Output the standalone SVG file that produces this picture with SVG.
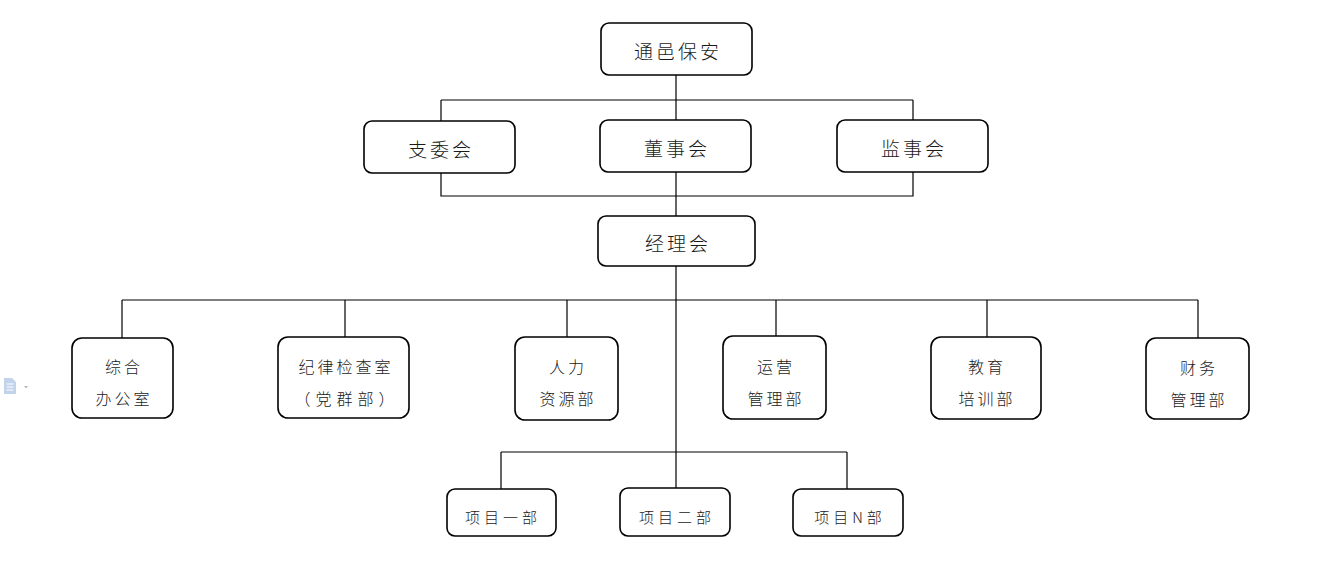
<svg xmlns="http://www.w3.org/2000/svg" width="1342" height="572" viewBox="0 0 1342 572">
<style>
.box{fill:#fff;stroke:#000;stroke-width:1.6}
.ln{stroke:#000;stroke-width:1.2;fill:none}
text{font-family:"Noto Sans CJK SC","Noto Sans",sans-serif;font-weight:300;fill:#1a1a1a;text-anchor:middle;dominant-baseline:central}
.t1{font-size:19px;letter-spacing:3px}
.t2{font-size:16px;letter-spacing:3px}
.t3{font-size:15px;letter-spacing:4px}
.wide{letter-spacing:5px}
</style>
<rect width="1342" height="572" fill="#fff"/>
<g id="doc-icon">
<path d="M4 378 h8 l4 4 v12 h-12 z" fill="#c3d3ea"/>
<path d="M6.5 384 h7 M6.5 387 h7 M6.5 390 h7" stroke="#fff" stroke-width="1"/>
<path d="M24 386 h4 l-2 2.5 z" fill="#b8b8b8"/>
</g>
<g id="connectors">
<path class="ln" d="M676 75 V120 M441 100 H913 M441 100 V121 M913 100 V120"/>
<path class="ln" d="M441 173 V196 H913 V172 M676 172 V216"/>
<path class="ln" d="M676 266 V488 M122 300 H1198 M122 300 V338 M345 300 V337 M567 300 V337 M776 300 V336 M987 300 V337 M1198 300 V338"/>
<path class="ln" d="M501 452 H847 M501 452 V489 M847 452 V489"/>
</g>
<g id="n-top"><rect class="box" x="601" y="23" width="151" height="52" rx="8"/><text class="t1" x="678" y="50">通邑保安</text></g>
<g id="n-zwh"><rect class="box" x="364" y="121" width="151" height="52" rx="8"/><text class="t1" x="441" y="148">支委会</text></g>
<g id="n-dsh"><rect class="box" x="600" y="120" width="151" height="52" rx="8"/><text class="t1" x="677" y="147">董事会</text></g>
<g id="n-jsh"><rect class="box" x="837" y="120" width="151" height="52" rx="8"/><text class="t1" x="914" y="147">监事会</text></g>
<g id="n-jlh"><rect class="box" x="598" y="216" width="157" height="50" rx="8"/><text class="t1" x="678" y="242">经理会</text></g>
<g id="n-zh"><rect class="box" x="72" y="338" width="101" height="80" rx="10"/><text class="t2" x="124" y="366">综合</text><text class="t2" x="124" y="398">办公室</text></g>
<g id="n-jl"><rect class="box" x="278" y="337" width="131" height="81" rx="10"/><text class="t2" x="346" y="366">纪律检查室</text><text class="t2 wide" x="347" y="398">（党群部）</text></g>
<g id="n-rl"><rect class="box" x="515" y="337" width="103" height="83" rx="10"/><text class="t2" x="568" y="366">人力</text><text class="t2" x="568" y="398">资源部</text></g>
<g id="n-yy"><rect class="box" x="723" y="336" width="103" height="83" rx="10"/><text class="t2" x="776" y="366">运营</text><text class="t2" x="776" y="398">管理部</text></g>
<g id="n-jy"><rect class="box" x="931" y="337" width="110" height="82" rx="10"/><text class="t2" x="987" y="366">教育</text><text class="t2" x="987" y="398">培训部</text></g>
<g id="n-cw"><rect class="box" x="1146" y="338" width="103" height="81" rx="10"/><text class="t2" x="1199" y="367">财务</text><text class="t2" x="1199" y="399">管理部</text></g>
<g id="n-xm1"><rect class="box" x="447" y="489" width="109" height="47" rx="8"/><text class="t3" x="503" y="516">项目一部</text></g>
<g id="n-xm2"><rect class="box" x="620" y="488" width="110" height="48" rx="8"/><text class="t3" x="677" y="516">项目二部</text></g>
<g id="n-xmn"><rect class="box" x="793" y="489" width="110" height="47" rx="8"/><text class="t3" x="850" y="516">项目N部</text></g>
</svg>
